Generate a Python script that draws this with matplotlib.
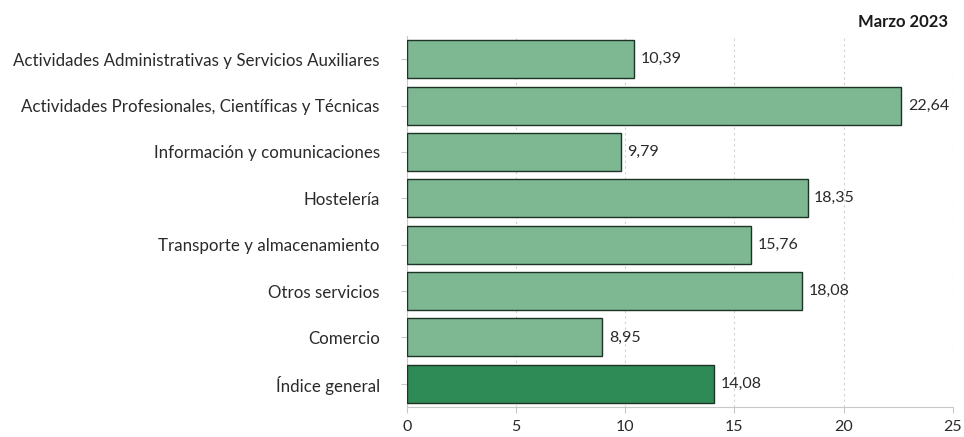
import matplotlib
matplotlib.use("Agg")
import matplotlib.pyplot as plt

# datos (de arriba hacia abajo)
categorias = ["Actividades Administrativas y Servicios Auxiliares",
              "Actividades Profesionales, Científicas y Técnicas",
              "Información y comunicaciones",
              "Hostelería",
              "Transporte y almacenamiento",
              "Otros servicios",
              "Comercio",
              "Índice general"]
valores = [10.39, 22.64, 9.79, 18.35, 15.76, 18.08, 8.95, 14.08]
ticks_x = [0, 5, 10, 15, 20, 25]

plt.rcParams['font.family'] = ['Lato', 'DejaVu Sans']

fig = plt.figure(figsize=(9.64, 4.37), dpi=100)
ax = fig.add_axes([0.422, 0.0686, 0.5664, 0.849])

colores = ['#7db893'] * (len(valores) - 1) + ['#2f8b55']
pos = list(range(len(valores)))[::-1]
ax.barh(pos, valores, height=0.82, color=colores, edgecolor='#1e3325', linewidth=1.0, zorder=3)

for p, v in zip(pos, valores):
    ax.text(v + 0.3, p, ("%.2f" % v).replace('.', ','), va='center', ha='left',
            fontsize=11.5, color='#2a2a2a', zorder=4)

ax.set_xlim(0, 25)
ax.set_ylim(-0.5, len(valores) - 0.5)
ax.set_xticks(ticks_x)
ax.set_xticklabels([str(t) for t in ticks_x], fontsize=11.5, color='#2a2a2a')
ax.set_yticks(pos)
ax.set_yticklabels(categorias, fontsize=12.2, color='#2a2a2a')
ax.tick_params(axis='y', length=4, color='#c8c8c8', pad=15.5)
ax.tick_params(axis='x', length=4, color='#c8c8c8', pad=5)

ax.grid(axis='x', linestyle=(0, (2, 3)), color='#d0d0d0', linewidth=0.8, zorder=0)
for s in ['top', 'right']:
    ax.spines[s].set_visible(False)
ax.spines['left'].set_color('#c8c8c8')
ax.spines['bottom'].set_color('#c8c8c8')

fig.text(0.983, 0.95, "Marzo 2023", ha='right', va='center', fontsize=12,
         fontweight='bold', color='#1a1a1a')

fig.savefig("out.png", dpi=100)
